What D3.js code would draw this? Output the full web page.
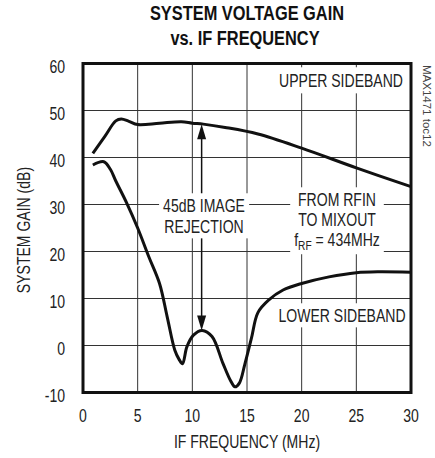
<!DOCTYPE html>
<html>
<head>
<meta charset="utf-8">
<script src="https://cdn.jsdelivr.net/npm/d3@7"></script>
<style>
  body { margin: 0; background: #fff; }
  text { font-family: "Liberation Sans", Arial, sans-serif; fill: #222; }
</style>
</head>
<body>
<div id="chart"></div>
<script>
// Chart data
const upperFreq = [0.9, 2, 3, 3.5, 4.2, 5, 7, 9, 10, 11, 13, 16, 20, 25, 30];
const upperGain = [40.9, 44.5, 47.8, 48.2, 47.7, 47.0, 47.3, 47.6, 47.3, 47.1, 46.4, 45, 42, 37.8, 33.8];

const lowerFreq = [0.9, 1.9, 2.5, 3, 4, 5, 6, 7, 7.7, 8.4, 8.8, 9.1, 9.5, 10.1, 10.9, 11.8, 12.8, 13.5, 13.9, 14.3, 14.8, 15.4, 16, 17, 18.3, 20, 22.5, 25, 27, 30];
const lowerGain = [38.4, 39.1, 37.5, 35, 30.3, 25, 19, 13.2, 6.1, -1, -3, -3.9, -0.3, 2.2, 3.2, 1.9, -3.8, -7.5, -8.8, -8, -4, 1.5, 7, 9.7, 11.8, 13.2, 14.6, 15.5, 15.7, 15.6];

const xTicks = [0, 5, 10, 15, 20, 25, 30];
const yTicks = [-10, 0, 10, 20, 30, 40, 50, 60];

// Arrow marking the image rejection (frequency, top gain, bottom gain)
const arrowFreq = 10.85;
const arrowTop = 47.1;
const arrowBottom = 3.2;

const width = 435, height = 458;
const margin = { top: 63.5, right: 24, bottom: 65.5, left: 83 };
const w = width - margin.left - margin.right;
const h = height - margin.top - margin.bottom;
const squeeze = 0.78; // narrow the font like the condensed face of the original

const svg = d3.select("#chart").append("svg")
    .attr("width", width)
    .attr("height", height);

const x = d3.scaleLinear().domain([0, 30]).range([margin.left, margin.left + w]);
const y = d3.scaleLinear().domain([-10, 60]).range([margin.top + h, margin.top]);

// Helper: text drawn with a horizontal squeeze
function narrowText(px, py, str, size, anchor, extra) {
    const g = svg.append("g")
        .attr("transform", `translate(${px},${py}) ${extra || ""} scale(${squeeze},1)`);
    const t = g.append("text")
        .attr("text-anchor", anchor || "middle")
        .style("font-size", size + "px")
        .text(str);
    return t;
}

// Title
narrowText(247, 20, "SYSTEM VOLTAGE GAIN", 21).style("font-weight", "bold").style("fill", "#111");
narrowText(245, 45, "vs. IF FREQUENCY", 21).style("font-weight", "bold").style("fill", "#111");

// Grid lines
svg.append("g")
    .selectAll("line")
    .data(xTicks.slice(1, -1))
    .enter().append("line")
    .attr("x1", d => x(d)).attr("x2", d => x(d))
    .attr("y1", y(60)).attr("y2", y(-10))
    .attr("stroke", "#333").attr("stroke-width", 1);
svg.append("g")
    .selectAll("line")
    .data(yTicks.slice(1, -1))
    .enter().append("line")
    .attr("x1", x(0)).attr("x2", x(30))
    .attr("y1", d => y(d)).attr("y2", d => y(d))
    .attr("stroke", "#333").attr("stroke-width", 1);

// Tick labels
xTicks.forEach(d => narrowText(x(d), 421.5, d, 18));
yTicks.forEach(d => narrowText(65, y(d) + 9.5, d, 18, "end"));

// Axis titles
narrowText(x(15), 448, "IF FREQUENCY (MHz)", 18);
narrowText(30, 230, "SYSTEM GAIN (dB)", 18, "middle", "rotate(-90)");

// Side label
svg.append("text")
    .attr("transform", "translate(423,65) rotate(90)")
    .style("font-size", "11.5px").style("fill", "#444")
    .text("MAX1471 toc12");

// Curves
const line = d3.line()
    .x(d => x(d[0]))
    .y(d => y(d[1]))
    .curve(d3.curveCatmullRom.alpha(0.5));

svg.append("path")
    .datum(d3.zip(upperFreq, upperGain))
    .attr("d", line)
    .attr("fill", "none").attr("stroke", "#111").attr("stroke-width", 3);
svg.append("path")
    .datum(d3.zip(lowerFreq, lowerGain))
    .attr("d", line)
    .attr("fill", "none").attr("stroke", "#111").attr("stroke-width", 3);

// Arrow for image rejection
const ax = x(arrowFreq);
const yTop = y(arrowTop), yBot = y(arrowBottom);
svg.append("line")
    .attr("x1", ax).attr("x2", ax)
    .attr("y1", yTop + 10).attr("y2", yBot - 10)
    .attr("stroke", "#111").attr("stroke-width", 1.5);
svg.append("path")
    .attr("d", `M${ax},${yTop} L${ax - 4.5},${yTop + 15} L${ax + 4.5},${yTop + 15} Z`)
    .attr("fill", "#111");
svg.append("path")
    .attr("d", `M${ax},${yBot} L${ax - 4.5},${yBot - 15} L${ax + 4.5},${yBot - 15} Z`)
    .attr("fill", "#111");

// Labels with white boxes that break the grid and the arrow
function boxedLabel(lines, cx, firstBaseline, lineGap, pad) {
    const g = svg.append("g")
        .attr("transform", `translate(${cx},${firstBaseline}) scale(${squeeze},1)`);
    const rect = g.append("rect").attr("fill", "#fff");
    const t = g.append("text")
        .attr("text-anchor", "middle")
        .style("font-size", "18px");
    lines.forEach((ln, i) => {
        const ts = t.append("tspan").attr("x", 0).attr("y", i * lineGap);
        if (typeof ln === "string") ts.text(ln);
        else ln(ts);
    });
    const bb = t.node().getBBox();
    rect.attr("x", bb.x - pad[0] / squeeze).attr("y", bb.y - pad[1])
        .attr("width", bb.width + 2 * pad[0] / squeeze).attr("height", bb.height + 2 * pad[1]);
}

boxedLabel(["UPPER SIDEBAND"], 341, 87, 0, [4, 3]);
boxedLabel(["LOWER SIDEBAND"], 342, 322, 0, [4, 2]);
boxedLabel(["45dB IMAGE", "REJECTION"], 204, 212, 21, [4, 2]);
boxedLabel(["FROM RFIN", "TO MIXOUT", ts => {
    ts.append("tspan").text("f");
    ts.append("tspan").attr("dy", 4).style("font-size", "13px").text("RF");
    ts.append("tspan").attr("dy", -4).text(" = 434MHz");
}], 337, 206, 20, [4, 2]);

// Frame
svg.append("rect")
    .attr("x", x(0)).attr("y", y(60))
    .attr("width", x(30) - x(0)).attr("height", y(-10) - y(60))
    .attr("fill", "none").attr("stroke", "#111").attr("stroke-width", 3);
</script>
</body>
</html>
